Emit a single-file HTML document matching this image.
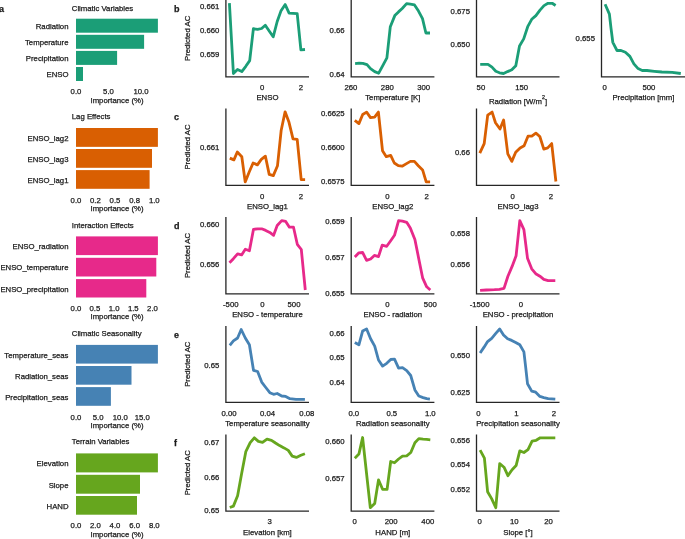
<!DOCTYPE html>
<html><head><meta charset="utf-8"><style>
html,body{margin:0;padding:0;background:#fff;}
body{width:685px;height:539px;overflow:hidden;}
svg{display:block;}
text{font-family:"Liberation Sans", sans-serif;fill:#1a1a1a;stroke:#1a1a1a;stroke-width:0.25px;}
svg{will-change:transform;}
</style></head><body>
<svg width="685" height="539" viewBox="0 0 685 539">
<text x="71.80" y="10.80" font-size="7.75" text-anchor="start">Climatic Variables</text>
<rect x="76.0" y="18.7" width="81.90" height="14.00" fill="#1b9e77"/>
<text x="68.50" y="28.99" font-size="7.75" text-anchor="end">Radiation</text>
<rect x="76.0" y="34.8" width="68.10" height="14.00" fill="#1b9e77"/>
<text x="68.50" y="45.09" font-size="7.75" text-anchor="end">Temperature</text>
<rect x="76.0" y="50.9" width="41.10" height="14.00" fill="#1b9e77"/>
<text x="68.50" y="61.19" font-size="7.75" text-anchor="end">Precipitation</text>
<rect x="76.0" y="67.0" width="7.00" height="14.00" fill="#1b9e77"/>
<text x="68.50" y="77.29" font-size="7.75" text-anchor="end">ENSO</text>
<text x="76.00" y="93.80" font-size="7.75" text-anchor="middle">0.0</text>
<text x="108.50" y="93.80" font-size="7.75" text-anchor="middle">5.0</text>
<text x="141.00" y="93.80" font-size="7.75" text-anchor="middle">10.0</text>
<text x="117.00" y="103.00" font-size="7.75" text-anchor="middle">Importance (%)</text>
<text x="71.80" y="119.10" font-size="7.75" text-anchor="start">Lag Effects</text>
<rect x="76.0" y="128.0" width="81.90" height="18.85" fill="#d95f02"/>
<text x="68.50" y="140.72" font-size="7.75" text-anchor="end">ENSO_lag2</text>
<rect x="76.0" y="149.0" width="76.00" height="18.80" fill="#d95f02"/>
<text x="68.50" y="161.69" font-size="7.75" text-anchor="end">ENSO_lag3</text>
<rect x="76.0" y="170.1" width="73.60" height="18.70" fill="#d95f02"/>
<text x="68.50" y="182.74" font-size="7.75" text-anchor="end">ENSO_lag1</text>
<text x="76.00" y="202.70" font-size="7.75" text-anchor="middle">0.0</text>
<text x="95.35" y="202.70" font-size="7.75" text-anchor="middle">0.2</text>
<text x="115.00" y="202.70" font-size="7.75" text-anchor="middle">0.5</text>
<text x="134.65" y="202.70" font-size="7.75" text-anchor="middle">0.8</text>
<text x="154.30" y="202.70" font-size="7.75" text-anchor="middle">1.0</text>
<text x="117.00" y="210.50" font-size="7.75" text-anchor="middle">Importance (%)</text>
<text x="71.80" y="227.60" font-size="7.75" text-anchor="start">Interaction Effects</text>
<rect x="76.0" y="236.4" width="81.90" height="18.70" fill="#e7298a"/>
<text x="68.50" y="249.04" font-size="7.75" text-anchor="end">ENSO_radiation</text>
<rect x="76.0" y="257.8" width="80.30" height="18.70" fill="#e7298a"/>
<text x="68.50" y="270.44" font-size="7.75" text-anchor="end">ENSO_temperature</text>
<rect x="76.0" y="279.1" width="70.30" height="18.40" fill="#e7298a"/>
<text x="68.50" y="291.59" font-size="7.75" text-anchor="end">ENSO_precipitation</text>
<text x="76.00" y="311.40" font-size="7.75" text-anchor="middle">0.0</text>
<text x="94.90" y="311.40" font-size="7.75" text-anchor="middle">0.5</text>
<text x="114.10" y="311.40" font-size="7.75" text-anchor="middle">1.0</text>
<text x="133.30" y="311.40" font-size="7.75" text-anchor="middle">1.5</text>
<text x="152.50" y="311.40" font-size="7.75" text-anchor="middle">2.0</text>
<text x="117.00" y="319.40" font-size="7.75" text-anchor="middle">Importance (%)</text>
<text x="71.80" y="335.70" font-size="7.75" text-anchor="start">Climatic Seasonality</text>
<rect x="76.0" y="344.9" width="81.90" height="18.70" fill="#4682b4"/>
<text x="68.50" y="357.54" font-size="7.75" text-anchor="end">Temperature_seas</text>
<rect x="76.0" y="366.0" width="55.50" height="18.70" fill="#4682b4"/>
<text x="68.50" y="378.64" font-size="7.75" text-anchor="end">Radiation_seas</text>
<rect x="76.0" y="387.1" width="34.90" height="18.70" fill="#4682b4"/>
<text x="68.50" y="399.74" font-size="7.75" text-anchor="end">Precipitation_seas</text>
<text x="76.00" y="419.60" font-size="7.75" text-anchor="middle">0.0</text>
<text x="98.10" y="419.60" font-size="7.75" text-anchor="middle">5.0</text>
<text x="120.20" y="419.60" font-size="7.75" text-anchor="middle">10.0</text>
<text x="142.30" y="419.60" font-size="7.75" text-anchor="middle">15.0</text>
<text x="117.00" y="428.00" font-size="7.75" text-anchor="middle">Importance (%)</text>
<text x="71.80" y="444.40" font-size="7.75" text-anchor="start">Terrain Variables</text>
<rect x="76.0" y="453.4" width="81.90" height="19.00" fill="#66a61e"/>
<text x="68.50" y="466.19" font-size="7.75" text-anchor="end">Elevation</text>
<rect x="76.0" y="474.8" width="64.00" height="18.90" fill="#66a61e"/>
<text x="68.50" y="487.54" font-size="7.75" text-anchor="end">Slope</text>
<rect x="76.0" y="496.0" width="61.00" height="18.70" fill="#66a61e"/>
<text x="68.50" y="508.64" font-size="7.75" text-anchor="end">HAND</text>
<text x="76.00" y="528.40" font-size="7.75" text-anchor="middle">0.0</text>
<text x="95.35" y="528.40" font-size="7.75" text-anchor="middle">2.0</text>
<text x="115.00" y="528.40" font-size="7.75" text-anchor="middle">4.0</text>
<text x="134.65" y="528.40" font-size="7.75" text-anchor="middle">6.0</text>
<text x="154.30" y="528.40" font-size="7.75" text-anchor="middle">8.0</text>
<text x="117.00" y="536.60" font-size="7.75" text-anchor="middle">Importance (%)</text>
<text x="-0.90" y="11.60" font-size="9.0" text-anchor="start" font-weight="bold">a</text>
<text x="174.10" y="11.70" font-size="9.0" text-anchor="start" font-weight="bold">b</text>
<text x="0" y="0" font-size="7.75" text-anchor="middle" transform="translate(190.4,38.40) rotate(-90)">Predicted AC</text>
<text x="174.10" y="120.30" font-size="9.0" text-anchor="start" font-weight="bold">c</text>
<text x="0" y="0" font-size="7.75" text-anchor="middle" transform="translate(190.4,147.00) rotate(-90)">Predicted AC</text>
<text x="174.10" y="228.80" font-size="9.0" text-anchor="start" font-weight="bold">d</text>
<text x="0" y="0" font-size="7.75" text-anchor="middle" transform="translate(190.4,255.50) rotate(-90)">Predicted AC</text>
<text x="174.10" y="337.70" font-size="9.0" text-anchor="start" font-weight="bold">e</text>
<text x="0" y="0" font-size="7.75" text-anchor="middle" transform="translate(190.4,364.23) rotate(-90)">Predicted AC</text>
<text x="174.10" y="446.10" font-size="9.0" text-anchor="start" font-weight="bold">f</text>
<text x="0" y="0" font-size="7.75" text-anchor="middle" transform="translate(190.4,472.75) rotate(-90)">Predicted AC</text>
<path d="M225.90,-1.00 L225.90,76.90 L309.00,76.90" fill="none" stroke="#262626" stroke-width="1.3"/>
<path d="M351.20,-1.00 L351.20,76.90 L434.40,76.90" fill="none" stroke="#262626" stroke-width="1.3"/>
<path d="M476.50,-1.00 L476.50,76.90 L559.50,76.90" fill="none" stroke="#262626" stroke-width="1.3"/>
<path d="M601.50,-1.00 L601.50,76.90 L685.50,76.90" fill="none" stroke="#262626" stroke-width="1.3"/>
<path d="M229.4,3.2 L233.4,73.5 L237.5,69.5 L241.8,71.6 L245.8,66.3 L249.7,60.6 L253.4,28.7 L257.6,29.4 L261.6,28.5 L265.3,25.2 L269.2,31.0 L273.2,36.8 L277.2,21.5 L280.9,11.1 L285.2,4.6 L289.1,13.1 L293.0,13.4 L297.2,13.7 L300.9,49.8 L305.0,49.5" fill="none" stroke="#1b9e77" stroke-width="2.8" stroke-linejoin="round" stroke-linecap="butt"/>
<text x="219.40" y="8.59" font-size="7.75" text-anchor="end">0.661</text>
<text x="219.40" y="32.69" font-size="7.75" text-anchor="end">0.660</text>
<text x="219.40" y="57.09" font-size="7.75" text-anchor="end">0.659</text>
<text x="262.05" y="90.00" font-size="7.75" text-anchor="middle">0</text>
<text x="300.90" y="90.00" font-size="7.75" text-anchor="middle">2</text>
<text x="267.45" y="100.30" font-size="7.75" text-anchor="middle">ENSO</text>
<path d="M355.1,63.6 L359.1,63.1 L362.8,63.3 L367.0,64.6 L370.5,68.6 L374.7,71.6 L378.7,73.2 L382.9,65.3 L386.9,57.9 L390.3,26.7 L394.8,15.6 L398.5,11.9 L402.2,8.5 L406.6,3.6 L410.3,4.2 L414.5,4.9 L418.5,11.1 L422.5,18.6 L425.9,33.0 L430.0,33.0" fill="none" stroke="#1b9e77" stroke-width="2.8" stroke-linejoin="round" stroke-linecap="butt"/>
<text x="344.70" y="33.49" font-size="7.75" text-anchor="end">0.66</text>
<text x="344.70" y="76.99" font-size="7.75" text-anchor="end">0.64</text>
<text x="350.90" y="90.00" font-size="7.75" text-anchor="middle">260</text>
<text x="387.30" y="90.00" font-size="7.75" text-anchor="middle">280</text>
<text x="423.60" y="90.00" font-size="7.75" text-anchor="middle">300</text>
<text x="392.80" y="100.30" font-size="7.75" text-anchor="middle">Temperature [K]</text>
<path d="M480.2,64.3 L483.9,64.3 L488.0,64.3 L492.0,67.1 L495.8,71.3 L499.5,72.8 L503.6,73.5 L507.6,71.6 L511.8,69.8 L515.8,65.8 L519.5,46.0 L523.7,38.9 L527.7,26.7 L531.7,19.3 L535.9,15.6 L540.0,10.1 L544.0,5.6 L548.0,3.3 L552.2,3.3 L555.6,5.5" fill="none" stroke="#1b9e77" stroke-width="2.8" stroke-linejoin="round" stroke-linecap="butt"/>
<text x="470.00" y="13.69" font-size="7.75" text-anchor="end">0.675</text>
<text x="470.00" y="47.49" font-size="7.75" text-anchor="end">0.650</text>
<text x="480.90" y="90.00" font-size="7.75" text-anchor="middle">50</text>
<text x="521.60" y="90.00" font-size="7.75" text-anchor="middle">150</text>
<text x="518.00" y="103.80" font-size="7.75" text-anchor="middle">Radiation [W/m<tspan font-size="5.4" dy="-4.8">2</tspan><tspan dy="4.8">]</tspan></text>
<path d="M605.1,4.2 L609.4,14.1 L611.0,28.2 L612.8,42.3 L617.0,50.5 L621.0,50.5 L625.4,52.3 L629.9,56.4 L633.9,63.9 L638.1,68.6 L642.2,70.5 L647.0,70.5 L654.4,71.3 L661.8,72.0 L672.2,72.3 L680.8,73.5" fill="none" stroke="#1b9e77" stroke-width="2.8" stroke-linejoin="round" stroke-linecap="butt"/>
<text x="595.00" y="40.89" font-size="7.75" text-anchor="end">0.655</text>
<text x="604.60" y="90.00" font-size="7.75" text-anchor="middle">0</text>
<text x="648.90" y="90.00" font-size="7.75" text-anchor="middle">500</text>
<text x="643.40" y="100.30" font-size="7.75" text-anchor="middle">Precipitation [mm]</text>
<path d="M225.90,108.60 L225.90,185.40 L309.00,185.40" fill="none" stroke="#262626" stroke-width="1.3"/>
<path d="M351.20,108.60 L351.20,185.40 L434.40,185.40" fill="none" stroke="#262626" stroke-width="1.3"/>
<path d="M476.50,108.60 L476.50,185.40 L559.50,185.40" fill="none" stroke="#262626" stroke-width="1.3"/>
<path d="M229.8,158.1 L233.9,159.9 L237.3,152.0 L241.8,156.7 L245.2,181.9 L249.2,172.0 L253.1,163.0 L257.4,164.9 L261.3,159.4 L265.4,156.2 L269.2,174.4 L273.3,175.6 L277.5,165.7 L281.2,130.2 L285.1,111.8 L289.0,122.3 L293.0,138.9 L297.2,139.4 L301.2,179.6 L305.1,179.6" fill="none" stroke="#d95f02" stroke-width="2.8" stroke-linejoin="round" stroke-linecap="butt"/>
<text x="219.40" y="150.39" font-size="7.75" text-anchor="end">0.661</text>
<text x="262.05" y="198.50" font-size="7.75" text-anchor="middle">0</text>
<text x="300.90" y="198.50" font-size="7.75" text-anchor="middle">2</text>
<text x="267.45" y="208.80" font-size="7.75" text-anchor="middle">ENSO_lag1</text>
<path d="M354.8,120.3 L358.9,123.6 L362.7,114.5 L366.6,112.1 L370.5,117.6 L374.6,117.1 L378.4,112.1 L382.5,150.7 L386.3,156.7 L390.7,155.4 L394.3,163.0 L398.3,165.7 L402.1,166.2 L406.5,163.6 L410.4,161.4 L414.4,161.4 L418.3,165.7 L422.6,169.9 L426.2,181.9 L430.1,181.9" fill="none" stroke="#d95f02" stroke-width="2.8" stroke-linejoin="round" stroke-linecap="butt"/>
<text x="344.70" y="116.09" font-size="7.75" text-anchor="end">0.6625</text>
<text x="344.70" y="150.09" font-size="7.75" text-anchor="end">0.6600</text>
<text x="344.70" y="184.39" font-size="7.75" text-anchor="end">0.6575</text>
<text x="387.30" y="198.50" font-size="7.75" text-anchor="middle">0</text>
<text x="426.60" y="198.50" font-size="7.75" text-anchor="middle">2</text>
<text x="392.80" y="208.80" font-size="7.75" text-anchor="middle">ENSO_lag2</text>
<path d="M479.8,153.1 L484.2,143.6 L487.7,115.2 L492.1,112.1 L495.5,122.7 L500.0,129.0 L503.6,120.0 L507.8,153.9 L511.8,161.4 L515.7,152.3 L520.1,147.9 L524.1,145.7 L528.0,136.2 L531.8,136.2 L535.9,133.1 L539.8,136.5 L543.8,149.1 L547.7,147.9 L551.7,143.6 L555.9,181.5" fill="none" stroke="#d95f02" stroke-width="2.8" stroke-linejoin="round" stroke-linecap="butt"/>
<text x="470.00" y="154.59" font-size="7.75" text-anchor="end">0.66</text>
<text x="512.60" y="198.50" font-size="7.75" text-anchor="middle">0</text>
<text x="551.00" y="198.50" font-size="7.75" text-anchor="middle">2</text>
<text x="518.00" y="208.80" font-size="7.75" text-anchor="middle">ENSO_lag3</text>
<path d="M225.90,217.10 L225.90,293.90 L309.00,293.90" fill="none" stroke="#262626" stroke-width="1.3"/>
<path d="M351.20,217.10 L351.20,293.90 L434.40,293.90" fill="none" stroke="#262626" stroke-width="1.3"/>
<path d="M476.50,217.10 L476.50,293.90 L559.50,293.90" fill="none" stroke="#262626" stroke-width="1.3"/>
<path d="M229.5,262.8 L233.4,258.7 L237.6,253.8 L241.6,254.9 L245.3,249.2 L249.4,250.8 L253.5,229.3 L257.6,228.8 L261.7,228.8 L265.7,230.4 L269.8,232.4 L273.6,235.3 L277.2,225.5 L281.7,220.6 L285.7,221.4 L289.4,227.2 L293.5,227.2 L297.3,244.3 L301.3,249.5 L305.3,290.0" fill="none" stroke="#e7298a" stroke-width="2.8" stroke-linejoin="round" stroke-linecap="butt"/>
<text x="219.40" y="227.39" font-size="7.75" text-anchor="end">0.660</text>
<text x="219.40" y="266.59" font-size="7.75" text-anchor="end">0.656</text>
<text x="230.80" y="307.00" font-size="7.75" text-anchor="middle">-500</text>
<text x="262.30" y="307.00" font-size="7.75" text-anchor="middle">0</text>
<text x="294.00" y="307.00" font-size="7.75" text-anchor="middle">500</text>
<text x="267.45" y="317.30" font-size="7.75" text-anchor="middle">ENSO - temperature</text>
<path d="M354.8,256.9 L358.9,252.8 L362.6,252.5 L366.6,260.3 L370.6,259.0 L374.4,255.4 L378.5,256.6 L382.2,245.1 L386.7,246.3 L390.7,240.7 L394.5,235.3 L398.6,220.6 L402.5,221.1 L406.7,222.3 L410.3,228.0 L414.9,239.4 L418.5,257.4 L422.6,277.8 L426.7,286.8 L430.3,290.0" fill="none" stroke="#e7298a" stroke-width="2.8" stroke-linejoin="round" stroke-linecap="butt"/>
<text x="344.70" y="223.59" font-size="7.75" text-anchor="end">0.659</text>
<text x="344.70" y="259.59" font-size="7.75" text-anchor="end">0.657</text>
<text x="344.70" y="295.59" font-size="7.75" text-anchor="end">0.655</text>
<text x="387.30" y="307.00" font-size="7.75" text-anchor="middle">0</text>
<text x="430.30" y="307.00" font-size="7.75" text-anchor="middle">500</text>
<text x="392.80" y="317.30" font-size="7.75" text-anchor="middle">ENSO - radiation</text>
<path d="M480.1,290.4 L486.3,290.0 L494.5,289.7 L499.4,289.4 L504.0,288.4 L507.9,276.2 L512.1,266.4 L516.1,255.7 L519.8,220.6 L523.9,229.6 L527.5,258.2 L531.7,268.8 L535.7,273.7 L539.9,276.2 L543.8,279.4 L548.1,280.6 L555.3,280.6" fill="none" stroke="#e7298a" stroke-width="2.8" stroke-linejoin="round" stroke-linecap="butt"/>
<text x="470.00" y="235.99" font-size="7.75" text-anchor="end">0.658</text>
<text x="470.00" y="267.49" font-size="7.75" text-anchor="end">0.656</text>
<text x="479.60" y="307.00" font-size="7.75" text-anchor="middle">-1500</text>
<text x="521.00" y="307.00" font-size="7.75" text-anchor="middle">0</text>
<text x="518.00" y="317.30" font-size="7.75" text-anchor="middle">ENSO - precipitation</text>
<path d="M225.90,326.00 L225.90,402.45 L309.00,402.45" fill="none" stroke="#262626" stroke-width="1.3"/>
<path d="M351.20,326.00 L351.20,402.45 L434.40,402.45" fill="none" stroke="#262626" stroke-width="1.3"/>
<path d="M476.50,326.00 L476.50,402.45 L559.50,402.45" fill="none" stroke="#262626" stroke-width="1.3"/>
<path d="M229.8,345.3 L233.4,340.9 L237.6,338.0 L241.2,329.5 L245.3,338.0 L249.4,344.8 L253.5,370.3 L257.6,371.5 L261.7,382.1 L265.4,387.0 L269.8,392.7 L273.6,394.3 L277.2,393.5 L281.7,396.0 L285.7,396.4 L289.9,398.7 L296.0,399.4 L304.9,399.4" fill="none" stroke="#4682b4" stroke-width="2.8" stroke-linejoin="round" stroke-linecap="butt"/>
<text x="219.40" y="367.59" font-size="7.75" text-anchor="end">0.65</text>
<text x="229.00" y="415.55" font-size="7.75" text-anchor="middle">0.00</text>
<text x="267.50" y="415.55" font-size="7.75" text-anchor="middle">0.04</text>
<text x="306.90" y="415.55" font-size="7.75" text-anchor="middle">0.08</text>
<text x="267.45" y="425.85" font-size="7.75" text-anchor="middle">Temperature seasonality</text>
<path d="M354.8,342.5 L358.9,344.8 L362.6,331.1 L366.6,329.0 L370.6,338.8 L374.7,346.1 L378.5,360.0 L382.6,366.1 L386.7,363.3 L390.7,359.5 L394.5,359.2 L398.6,368.2 L402.5,367.7 L406.7,370.6 L410.7,375.5 L414.9,389.9 L418.8,396.0 L423.1,397.6 L426.7,398.7 L429.9,399.2" fill="none" stroke="#4682b4" stroke-width="2.8" stroke-linejoin="round" stroke-linecap="butt"/>
<text x="344.70" y="335.59" font-size="7.75" text-anchor="end">0.66</text>
<text x="344.70" y="360.39" font-size="7.75" text-anchor="end">0.65</text>
<text x="344.70" y="385.19" font-size="7.75" text-anchor="end">0.64</text>
<text x="353.80" y="415.55" font-size="7.75" text-anchor="middle">0.0</text>
<text x="391.80" y="415.55" font-size="7.75" text-anchor="middle">0.5</text>
<text x="430.30" y="415.55" font-size="7.75" text-anchor="middle">1.0</text>
<text x="392.80" y="425.85" font-size="7.75" text-anchor="middle">Radiation seasonality</text>
<path d="M480.1,353.0 L483.9,347.4 L487.6,341.6 L491.7,338.3 L495.8,333.4 L499.7,329.0 L503.5,335.0 L507.6,338.8 L511.7,340.4 L515.7,342.5 L519.8,344.8 L523.9,351.9 L525.5,365.7 L527.5,383.7 L531.7,391.1 L535.7,392.2 L539.9,396.4 L543.8,397.6 L548.1,398.7 L555.3,399.2" fill="none" stroke="#4682b4" stroke-width="2.8" stroke-linejoin="round" stroke-linecap="butt"/>
<text x="470.00" y="358.39" font-size="7.75" text-anchor="end">0.650</text>
<text x="470.00" y="395.19" font-size="7.75" text-anchor="end">0.625</text>
<text x="478.30" y="415.55" font-size="7.75" text-anchor="middle">0</text>
<text x="516.30" y="415.55" font-size="7.75" text-anchor="middle">1</text>
<text x="554.00" y="415.55" font-size="7.75" text-anchor="middle">2</text>
<text x="518.00" y="425.85" font-size="7.75" text-anchor="middle">Precipitation seasonality</text>
<path d="M225.90,434.40 L225.90,511.10 L309.00,511.10" fill="none" stroke="#262626" stroke-width="1.3"/>
<path d="M351.20,434.40 L351.20,511.10 L434.40,511.10" fill="none" stroke="#262626" stroke-width="1.3"/>
<path d="M476.50,434.40 L476.50,511.10 L559.50,511.10" fill="none" stroke="#262626" stroke-width="1.3"/>
<path d="M229.8,507.5 L233.4,506.1 L237.6,495.8 L241.6,473.7 L245.8,451.7 L250.2,442.7 L254.3,437.8 L258.4,441.4 L262.5,442.4 L267.0,439.1 L271.5,440.3 L275.5,443.0 L279.6,445.6 L284.0,447.9 L288.3,450.4 L292.2,456.1 L296.4,457.4 L300.9,455.3 L304.9,453.8" fill="none" stroke="#66a61e" stroke-width="2.8" stroke-linejoin="round" stroke-linecap="butt"/>
<text x="219.40" y="445.09" font-size="7.75" text-anchor="end">0.67</text>
<text x="219.40" y="479.79" font-size="7.75" text-anchor="end">0.66</text>
<text x="219.40" y="513.29" font-size="7.75" text-anchor="end">0.65</text>
<text x="269.70" y="524.20" font-size="7.75" text-anchor="middle">3</text>
<text x="267.45" y="534.50" font-size="7.75" text-anchor="middle">Elevation [km]</text>
<path d="M354.8,458.2 L358.9,454.1 L362.6,437.5 L370.3,507.7 L374.7,503.5 L378.5,479.9 L382.6,489.3 L387.1,489.3 L390.7,461.5 L394.5,462.8 L398.6,459.0 L402.5,456.1 L406.7,455.8 L410.8,452.5 L414.9,442.7 L418.8,438.6 L423.1,439.1 L426.7,439.4 L430.3,439.8" fill="none" stroke="#66a61e" stroke-width="2.8" stroke-linejoin="round" stroke-linecap="butt"/>
<text x="344.70" y="444.39" font-size="7.75" text-anchor="end">0.660</text>
<text x="344.70" y="481.09" font-size="7.75" text-anchor="end">0.657</text>
<text x="354.60" y="524.20" font-size="7.75" text-anchor="middle">0</text>
<text x="391.10" y="524.20" font-size="7.75" text-anchor="middle">200</text>
<text x="427.80" y="524.20" font-size="7.75" text-anchor="middle">400</text>
<text x="392.80" y="534.50" font-size="7.75" text-anchor="middle">HAND [m]</text>
<path d="M480.1,450.1 L484.4,458.2 L487.6,491.7 L491.6,498.6 L495.8,507.7 L499.7,463.6 L504.0,467.2 L507.9,475.7 L512.1,469.7 L516.1,465.6 L519.8,450.9 L523.9,452.5 L528.0,449.6 L532.1,441.1 L536.2,440.3 L540.2,437.8 L548.4,437.8 L555.3,437.8" fill="none" stroke="#66a61e" stroke-width="2.8" stroke-linejoin="round" stroke-linecap="butt"/>
<text x="470.00" y="442.59" font-size="7.75" text-anchor="end">0.656</text>
<text x="470.00" y="466.89" font-size="7.75" text-anchor="end">0.654</text>
<text x="470.00" y="492.29" font-size="7.75" text-anchor="end">0.652</text>
<text x="479.60" y="524.20" font-size="7.75" text-anchor="middle">0</text>
<text x="514.30" y="524.20" font-size="7.75" text-anchor="middle">10</text>
<text x="548.50" y="524.20" font-size="7.75" text-anchor="middle">20</text>
<text x="518.00" y="534.50" font-size="7.75" text-anchor="middle">Slope [°]</text>
</svg>
</body></html>
